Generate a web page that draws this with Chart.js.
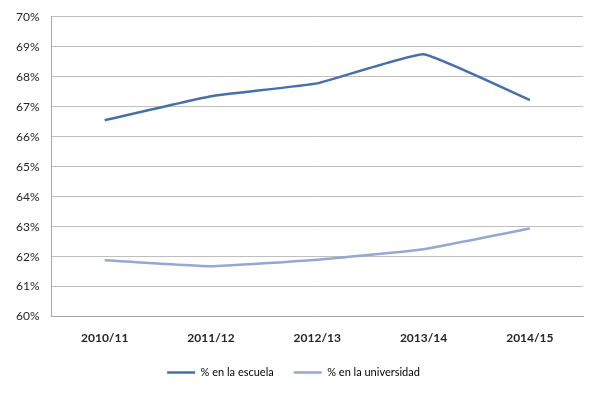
<!DOCTYPE html>
<html>
<head>
<meta charset="utf-8">
<script src="https://cdn.jsdelivr.net/npm/chart.js@4/dist/chart.umd.min.js"></script>
<style>
  html,body{margin:0;padding:0;background:#fff;}
  #wrap{width:600px;height:393px;}
</style>
</head>
<body>
<div id="wrap"><canvas id="chart"></canvas></div>
<script>
// ===== Data =====
const years = ['2010/11','2011/12','2012/13','2013/14','2014/15'];
const escuela = [66.55, 67.35, 67.78, 68.75, 67.22];
const universidad = [61.88, 61.68, 61.9, 62.25, 62.94];
const yTicks = [60,61,62,63,64,65,66,67,68,69,70];

const FONT = 'Lato, "Open Sans", sans-serif';

new Chart(document.getElementById('chart'), {
  type: 'line',
  data: {
    labels: years,
    datasets: [
      {label:'% en la escuela', data:escuela, borderColor:'#4671a8', backgroundColor:'#4671a8',
       borderWidth:2.5, pointRadius:0, tension:0.1},
      {label:'% en la universidad', data:universidad, borderColor:'#93a9d1', backgroundColor:'#93a9d1',
       borderWidth:2.5, pointRadius:0, tension:0.1}
    ]
  },
  options: {
    responsive:true, maintainAspectRatio:false, animation:false,
    layout:{padding:{left:4, right:17, top:0, bottom:5}},
    scales: {
      x: {
        offset:true,
        grid:{display:false, drawTicks:false},
        border:{color:'#a6a6a6'},
        ticks:{color:'#262626', font:{family:FONT, size:12, weight:'bold'}, padding:14},
        afterFit: s => { s.height -= 12; }
      },
      y: {
        min:60, max:70,
        afterBuildTicks: s => { s.ticks = yTicks.map(v=>({value:v})); },
        grid:{color:'#bfbfbf', drawTicks:false},
        border:{color:'#a6a6a6'},
        ticks:{color:'#262626', font:{family:FONT, size:12, lineHeight:0.8}, padding:12, callback:v=>v+'%'}
      }
    },
    plugins: {
      legend: {
        position:'bottom',
        labels:{boxWidth:28, boxHeight:0, color:'#262626', padding:20,
          font:{family:FONT, size:11},
          generateLabels: ch => ch.data.datasets.map((d,i)=>({
            text:d.label, strokeStyle:d.borderColor, fillStyle:d.borderColor,
            lineWidth:2.5, datasetIndex:i, hidden:false
          }))
        }
      },
      tooltip:{enabled:false}
    }
  }
});
</script>
</body>
</html>
